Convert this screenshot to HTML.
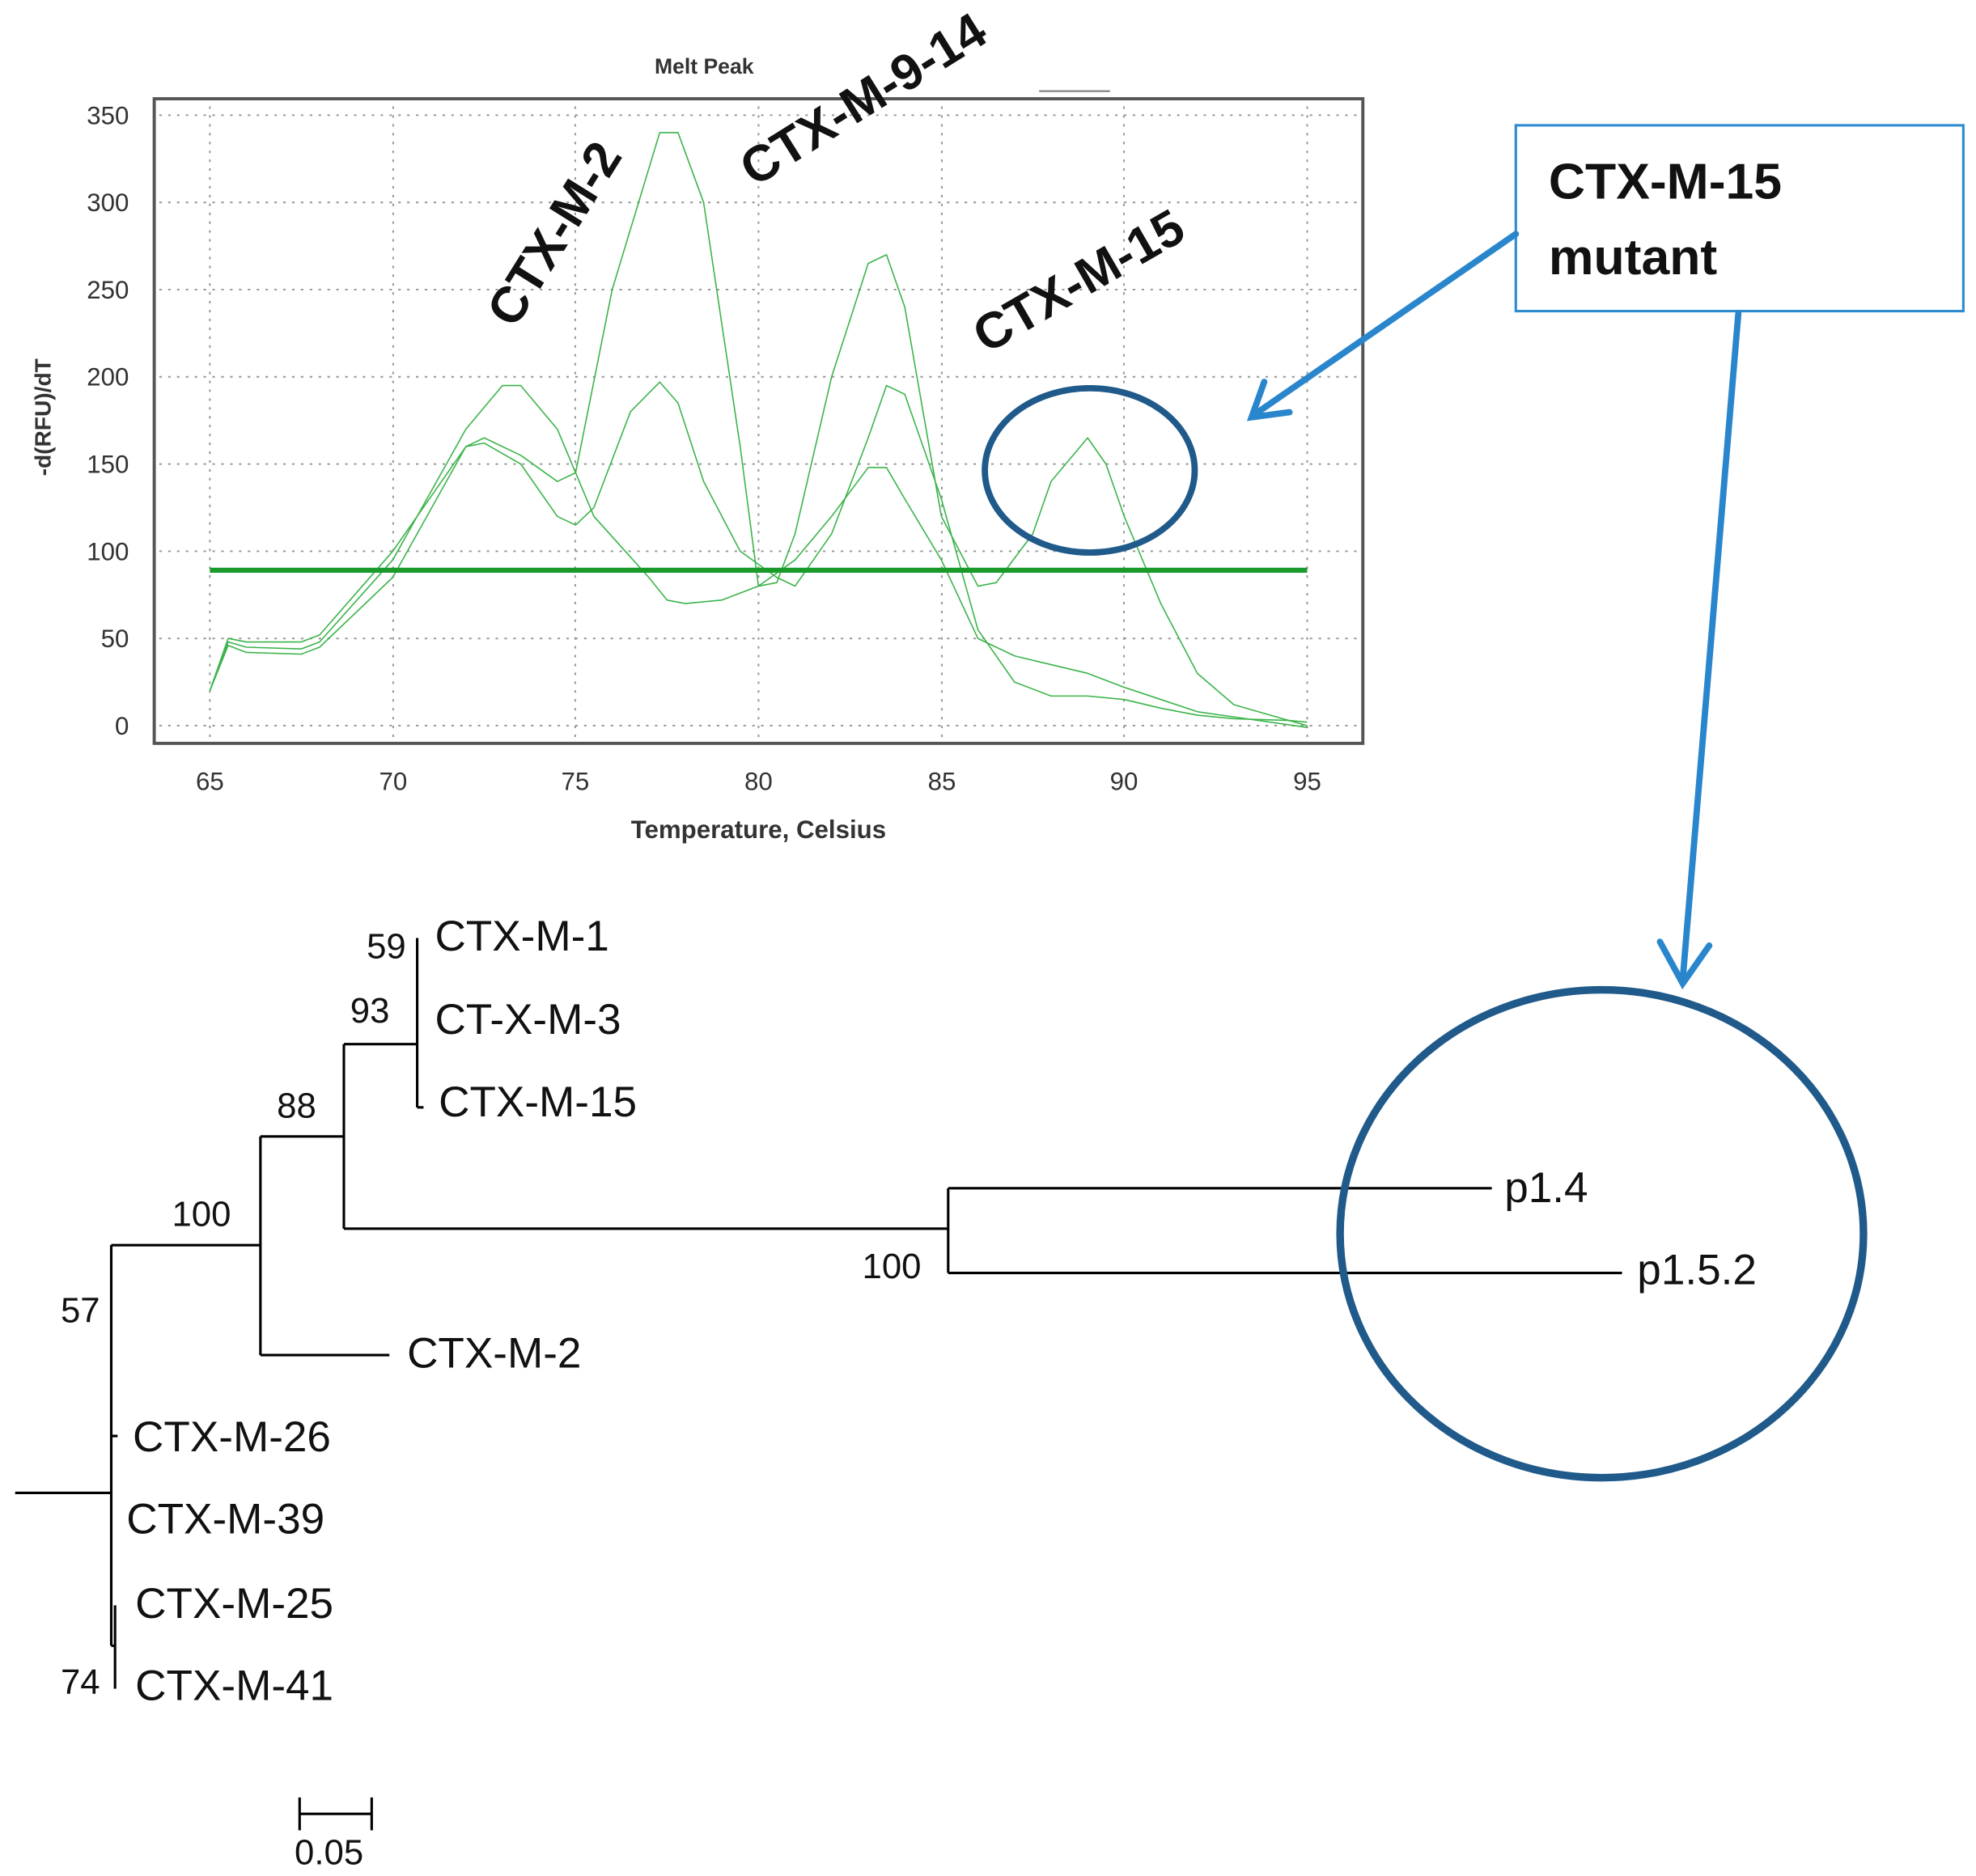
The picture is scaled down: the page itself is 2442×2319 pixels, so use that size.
<!DOCTYPE html>
<html><head><meta charset="utf-8"><style>html,body{margin:0;padding:0;background:#fff}svg{display:block}</style></head>
<body>
<svg width="2442" height="2319" viewBox="0 0 1563 1484" xmlns="http://www.w3.org/2000/svg">
<rect width="1563" height="1484" fill="#fff"/>
<rect x="122" y="78" width="956" height="510" fill="none" stroke="#555" stroke-width="2.5"/>
<line x1="822" y1="72" x2="878" y2="72" stroke="#888" stroke-width="1.5"/>
<g stroke="#999" stroke-width="1.3" stroke-dasharray="2,5">
<line x1="166" y1="84" x2="166" y2="584"/><line x1="311" y1="84" x2="311" y2="584"/><line x1="455" y1="84" x2="455" y2="584"/><line x1="600" y1="84" x2="600" y2="584"/><line x1="745" y1="84" x2="745" y2="584"/><line x1="889" y1="84" x2="889" y2="584"/><line x1="1034" y1="84" x2="1034" y2="584"/>
<line x1="126" y1="574" x2="1074" y2="574"/><line x1="126" y1="505" x2="1074" y2="505"/><line x1="126" y1="436" x2="1074" y2="436"/><line x1="126" y1="367" x2="1074" y2="367"/><line x1="126" y1="298" x2="1074" y2="298"/><line x1="126" y1="229" x2="1074" y2="229"/><line x1="126" y1="160" x2="1074" y2="160"/><line x1="126" y1="91" x2="1074" y2="91"/>
</g>
<g fill="#333" font-family="Liberation Sans, sans-serif" font-size="20">
<g text-anchor="end">
<text x="102" y="581">0</text><text x="102" y="512">50</text><text x="102" y="443">100</text><text x="102" y="374">150</text><text x="102" y="305">200</text><text x="102" y="236">250</text><text x="102" y="167">300</text><text x="102" y="98">350</text>
</g>
<g text-anchor="middle">
<text x="166" y="625">65</text><text x="311" y="625">70</text><text x="455" y="625">75</text><text x="600" y="625">80</text><text x="745" y="625">85</text><text x="889" y="625">90</text><text x="1034" y="625">95</text>
</g>
<text x="557" y="58" font-size="17" font-weight="bold" text-anchor="middle">Melt Peak</text>
<text x="600" y="663" font-size="20" font-weight="bold" text-anchor="middle">Temperature, Celsius</text>
<text transform="translate(40,330) rotate(-90)" font-size="18" font-weight="bold" text-anchor="middle">-d(RFU)/dT</text>
</g>
<g transform="translate(166,574) scale(28.93,-1.38) translate(-65,0)" fill="none" stroke="#3cb44b" stroke-width="1.6" stroke-linejoin="round">
<polyline vector-effect="non-scaling-stroke" points="65,20 65.5,50 66,48 67.5,48 68,52 70,100 72,160 72.5,165 73.5,155 74.5,140 75,145 76,250 77.3,340 77.8,340 78.5,300 79.5,160 80,80 80.5,82 81,110 82,200 83,265 83.5,270 84,240 85,120 86,80 86.5,82 87.5,110 88,140 89,165 89.5,150 90,120 91,70 92,30 93,12 94,6 95,0"/>
<polyline vector-effect="non-scaling-stroke" points="65,20 65.5,48 66,45 67.5,44 68,48 70,95 72,170 73,195 73.5,195 74.5,170 75.5,120 77,85 77.5,72 78,70 79,72 80,80 81,95 82,120 83,148 83.5,148 84,130 85,95 86,50 87,40 88,35 89,30 90,22 91,15 92,8 93,5 95,-1"/>
<polyline vector-effect="non-scaling-stroke" points="65,20 65.5,46 66,42 67.5,41 68,45 70,85 72,160 72.5,162 73.5,150 74.5,120 75,115 75.5,125 76.5,180 77.3,197 77.8,185 78.5,140 79.5,100 80.5,85 81,80 82,110 83,165 83.5,195 84,190 85,130 86,55 87,25 88,17 89,17 90,15 91,10 92,6 93,4 94.5,3 95,2"/>
</g>
<line x1="166" y1="451" x2="1034" y2="451" stroke="#1a9a2a" stroke-width="4"/>
<g font-family="Liberation Sans, sans-serif" font-weight="bold" font-size="40" fill="#111" text-anchor="middle">
<text transform="translate(450,192) rotate(-58)">CTX-M-2</text>
<text transform="translate(690,90) rotate(-32)">CTX-M-9-14</text>
<text transform="translate(860,234) rotate(-30)">CTX-M-15</text>
</g>
<ellipse cx="862" cy="372" rx="83" ry="65" fill="none" stroke="#1f5a8a" stroke-width="5"/>
<rect x="1199" y="99" width="354" height="147" fill="#fff" stroke="#2e8bd0" stroke-width="2"/>
<g font-family="Liberation Sans, sans-serif" font-weight="bold" font-size="40" fill="#111">
<text x="1225" y="157">CTX-M-15</text><text x="1225" y="217">mutant</text>
</g>
<g stroke="#2a86cc" stroke-width="5" fill="none" stroke-linecap="round">
<line x1="1199" y1="185" x2="992" y2="328"/>
<polyline points="1000,302 990,330 1020,326"/>
<line x1="1375" y1="248" x2="1331" y2="775"/>
<polyline points="1313,745 1331,778 1352,748"/>
</g>
<g stroke="#000" stroke-width="2" fill="none">
<line x1="12" y1="1181" x2="88" y2="1181"/>
<line x1="88" y1="985" x2="88" y2="1302"/>
<line x1="88" y1="1136" x2="93" y2="1136"/>
<line x1="88" y1="1302" x2="91" y2="1302"/>
<line x1="91" y1="1270" x2="91" y2="1336"/>
<line x1="88" y1="985" x2="206" y2="985"/>
<line x1="206" y1="899" x2="206" y2="1072"/>
<line x1="206" y1="1072" x2="308" y2="1072"/>
<line x1="206" y1="899" x2="272" y2="899"/>
<line x1="272" y1="826" x2="272" y2="972"/>
<line x1="272" y1="972" x2="750" y2="972"/>
<line x1="750" y1="940" x2="750" y2="1007"/>
<line x1="750" y1="940" x2="1180" y2="940"/>
<line x1="750" y1="1007" x2="1283" y2="1007"/>
<line x1="272" y1="826" x2="330" y2="826"/>
<line x1="330" y1="742" x2="330" y2="876"/>
<line x1="330" y1="876" x2="335" y2="876"/>
<line x1="237" y1="1435" x2="294" y2="1435"/>
<line x1="237" y1="1422" x2="237" y2="1448"/>
<line x1="294" y1="1422" x2="294" y2="1448"/>
</g>
<g font-family="Liberation Sans, sans-serif" font-size="34" fill="#111">
<text x="344" y="752">CTX-M-1</text>
<text x="344" y="818">CT-X-M-3</text>
<text x="347" y="883">CTX-M-15</text>
<text x="1190" y="951">p1.4</text>
<text x="1295" y="1016">p1.5.2</text>
<text x="322" y="1082">CTX-M-2</text>
<text x="105" y="1148">CTX-M-26</text>
<text x="100" y="1213">CTX-M-39</text>
<text x="107" y="1280">CTX-M-25</text>
<text x="107" y="1345">CTX-M-41</text>
</g>
<g font-family="Liberation Sans, sans-serif" font-size="28" fill="#111">
<text x="290" y="758">59</text><text x="277" y="809">93</text><text x="219" y="884">88</text>
<text x="136" y="970">100</text><text x="48" y="1046">57</text><text x="682" y="1011">100</text>
<text x="48" y="1340">74</text><text x="233" y="1475">0.05</text>
</g>
<ellipse cx="1267" cy="976" rx="207" ry="193" fill="none" stroke="#1f5a8a" stroke-width="6"/>
</svg>
</body></html>
